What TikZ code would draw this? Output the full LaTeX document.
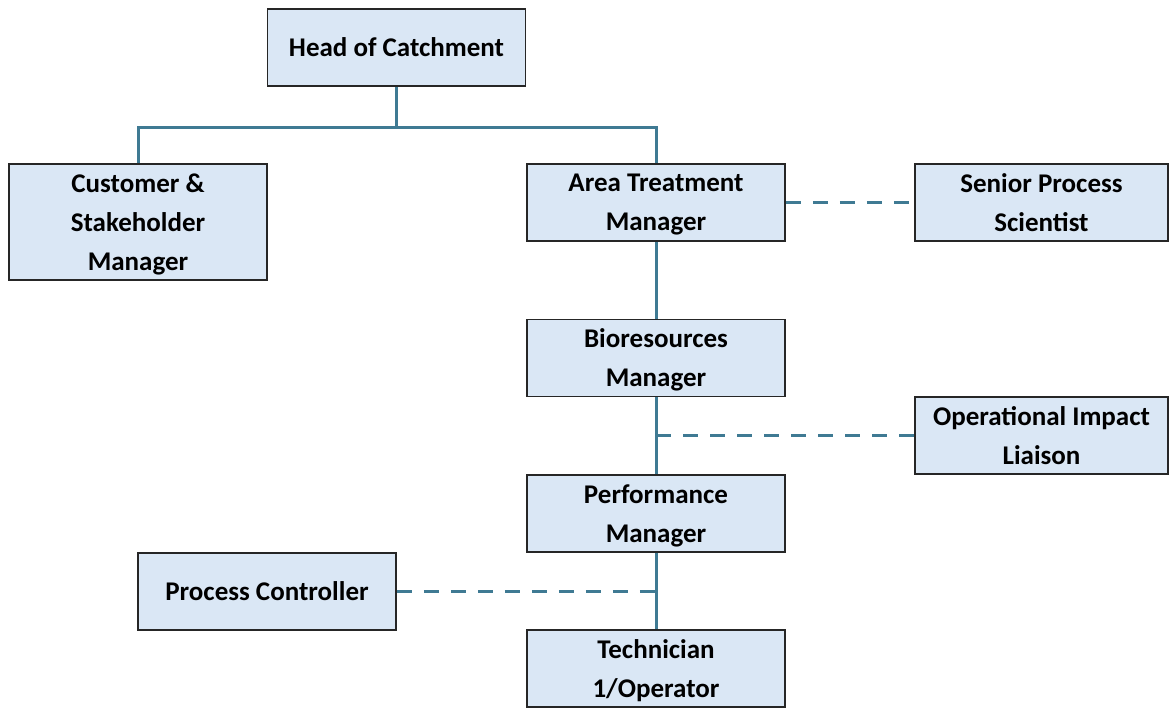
\documentclass[tikz,border=0pt]{standalone}
\usepackage{fontspec}
\setmainfont{Carlito}
\usetikzlibrary{positioning}

\definecolor{boxfill}{HTML}{DAE7F5}
\definecolor{linkblue}{HTML}{3F7A93}

\begin{document}
\begin{tikzpicture}[x = 1pt, y = -1pt]
\tikzstyle{RoleStyle}=[shape = rectangle,
                       draw = black!85,
                       line width = 1.5pt,
                       fill = boxfill,
                       minimum width = 258pt,
                       minimum height = 77pt,
                       align = center,
                       inner sep = 2pt,
                       font = \fontsize{27}{39}\selectfont\bfseries]
\tikzstyle{MultiStyle}=[RoleStyle, text depth = 0pt]
\tikzstyle{LinkStyle}=[draw = linkblue, line width = 3pt]
\tikzstyle{DashStyle}=[LinkStyle, dash pattern = on 15pt off 12pt]

\useasboundingbox (0,0) rectangle (1169,709);

\node[RoleStyle] (head) at (396.5, 47.5) {Head of Catchment};
\node[MultiStyle, minimum height = 116pt] (cust) at (138, 222) {Customer \&\\Stakeholder\\Manager};
\node[MultiStyle] (atm) at (656, 202.5) {Area Treatment\\Manager};
\node[MultiStyle, minimum width = 253pt] (sps) at (1041.5, 202.5) {Senior Process\\Scientist};
\node[MultiStyle] (bio) at (656, 358) {Bioresources\\Manager};
\node[MultiStyle, minimum width = 253pt] (oil) at (1041.5, 435.5) {Operational Impact\\Liaison};
\node[MultiStyle] (perf) at (656, 513.5) {Performance\\Manager};
\node[RoleStyle] (pc) at (267, 591.5) {Process Controller};
\node[MultiStyle] (tech) at (656, 668.5) {Technician\\1/Operator};

\coordinate (bar) at (396.5, 127);
\coordinate (oilJoin) at (656, 435.5);
\coordinate (pcJoin) at (656, 591.5);

\draw[LinkStyle] (head.south) -- (bar);
\draw[LinkStyle] (cust.north) |- (bar) -| (atm.north);
\draw[LinkStyle] (atm.south) -- (bio.north);
\draw[LinkStyle] (bio.south) -- (perf.north);
\draw[LinkStyle] (perf.south) -- (tech.north);
\draw[DashStyle] (atm.east) -- (sps.west);
\draw[DashStyle] (oilJoin) -- (oil.west);
\draw[DashStyle] (pc.east) -- (pcJoin);
\end{tikzpicture}
\end{document}
